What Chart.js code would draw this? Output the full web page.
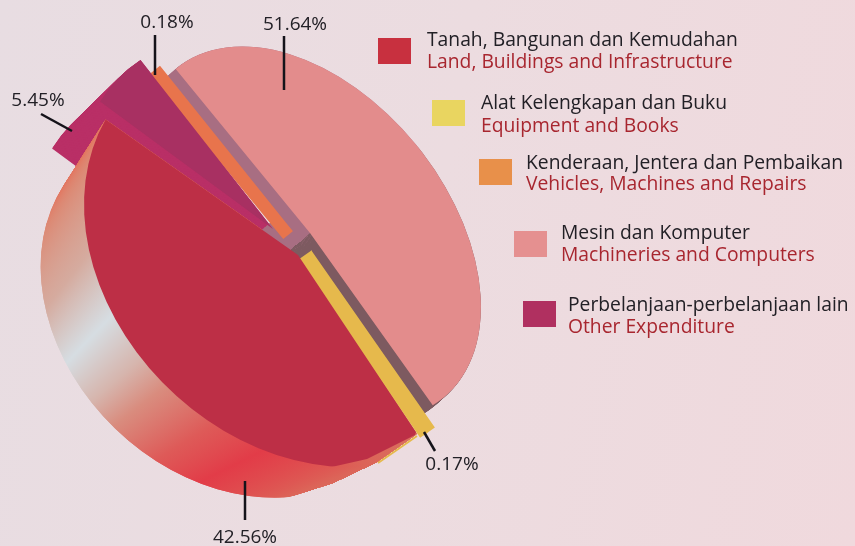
<!DOCTYPE html>
<html><head><meta charset="utf-8">
<style>
html,body{margin:0;padding:0;width:855px;height:546px;overflow:hidden;background:linear-gradient(100deg,#e8dde2 0%,#ecdce0 50%,#f0d9dd 100%);}
canvas{display:block}
</style>
<script src="https://cdn.jsdelivr.net/npm/chart.js@4/dist/chart.umd.min.js"></script>
</head><body>
<canvas id="c" width="855" height="546"></canvas>
<script>
const categoriesMs = ['Tanah, Bangunan dan Kemudahan','Alat Kelengkapan dan Buku','Kenderaan, Jentera dan Pembaikan','Mesin dan Komputer','Perbelanjaan-perbelanjaan lain'];
const categoriesEn = ['Land, Buildings and Infrastructure','Equipment and Books','Vehicles, Machines and Repairs','Machineries and Computers','Other Expenditure'];
const values = [42.56, 0.17, 0.18, 51.64, 5.45];

const sliceColours  = ['#bd2f46','#e6b94c','#e8744c','#e38c8c','#a83062'];
const legendColours = ['#c8303f','#e9d560','#e8904a','#e59090','#b03060'];
const borderWidths  = [0, 15, 12, 0, 0];

const deg = d => d*Math.PI/180;
// Per-slice perspective frame: apex, ellipse axis angle, semi-axes, start angle in that frame
const frames = [
  {x:298,y:255,phi:43.9,a:237,b:186,start:15.7},
  {x:305,y:255,phi:0,a:208,b:208,start:55.1},
  {x:288,y:235,phi:0,a:206,b:206,start:230.6},
  {x:310,y:233,phi:51.2,a:212,b:138,start:179.2},
  {x:273,y:229,phi:43.9,a:216,b:170,start:170.5}
];
const legendPos = [
  {sx:378,sy:38,tx:427,y1:46,y2:68},
  {sx:432,sy:100,tx:481,y1:109,y2:132},
  {sx:479,sy:159,tx:526,y1:169,y2:190},
  {sx:514,sy:231,tx:561,y1:239,y2:261},
  {sx:523,sy:301,tx:568,y1:311,y2:333}
];
const labelPos = [{x:245,y:543},{x:452,y:470},{x:167,y:28},{x:295,y:30},{x:38,y:106}];
const leaders = [[245,481,245,520],[424,432,435,451],[155,35,155,75],[284,36,284,90],[41,114,72,131]];
const wallOutline = [[0,0],[460,300],[417,434],[377,462],[333,483],[283,499],[200,546],[0,546]];
const faceOutline = [[0,0],[460,300],[415,435],[367,459],[327,468],[250,546],[0,546]];

function place(ctx,arc,f,k=1,dx=0,dy=0,dStart=0){
  const R=arc.outerRadius, rho=deg(f.start+dStart)-arc.startAngle;
  ctx.translate(f.x+dx,f.y+dy);
  ctx.rotate(deg(f.phi));
  ctx.scale(f.a*k/R,f.b*k/R);
  ctx.rotate(rho);
  ctx.translate(-arc.x,-arc.y);
  return rho;
}
function conic(ctx,arc,rho,stops){
  const g=ctx.createConicGradient(-rho,arc.x,arc.y);
  stops.forEach(s=>g.addColorStop(s[0]/360,s[1]));
  return g;
}
function drawWith(ctx,arc,opts){
  const c=Object.create(arc);
  c.options=Object.assign({},arc.options,opts);
  c.draw(ctx);
}
function clipTo(ctx,pts){
  ctx.beginPath();pts.forEach((p,i)=>i?ctx.lineTo(p[0],p[1]):ctx.moveTo(p[0],p[1]));ctx.closePath();ctx.clip();
}
const redWallStops=[[0,'#d9705e'],[15,'#d9705e'],[35,'#dc6458'],[62,'#e23c48'],[76,'#de5a58'],[91,'#d98c7e'],[100,'#d6b5ad'],[113,'#d6dde2'],[130,'#d5ab9f'],[155,'#dc8a75'],[180,'#e8634c'],[360,'#e8634c']];
const pinkWallStops=[[0,'#7d5a60'],[10,'#7d5a60'],[10.01,'#a86e82'],[270,'#a86e82'],[270.01,'#7d5a60'],[360,'#7d5a60']];

const piePainter={
  id:'piePainter',
  beforeDatasetsDraw(chart){
    const ctx=chart.ctx, arcs=chart.getDatasetMeta(0).data;
    const N=70;
    // side wall of other expenditure
    for(let i=N;i>=0;i--){
      const t=i/N; ctx.save();
      place(ctx,arcs[4],frames[4],1,-48*t,47*t);
      drawWith(ctx,arcs[4],{backgroundColor:'#b92f66',borderWidth:0});
      ctx.restore();
    }
    // side wall of the large red slice, swept to its lower rim
    ctx.save();clipTo(ctx,wallOutline);
    [12,-11.7].forEach(dStart=>{
      for(let i=N;i>=0;i--){
        const t=i/N; ctx.save();
        const rho=place(ctx,arcs[0],frames[0],1-0.12*t,(229-298)*t,(311-255)*t,dStart*t);
        drawWith(ctx,arcs[0],{backgroundColor:conic(ctx,arcs[0],rho,redWallStops),borderWidth:0});
        ctx.restore();
      }
    });
    ctx.restore();
    // deeper corner of the machineries wall near the centre
    for(let i=16;i>=0;i--){
      const t=i/16; ctx.save();
      const r3=place(ctx,arcs[3],frames[3],0.16,-28*t,24*t);
      drawWith(ctx,arcs[3],{backgroundColor:conic(ctx,arcs[3],r3,pinkWallStops),borderWidth:0});
      ctx.restore();
    }
    // side wall of machineries slice
    for(let i=20;i>=0;i--){
      const t=i/20; ctx.save();
      const rho=place(ctx,arcs[3],frames[3],1,-10*t,9*t);
      drawWith(ctx,arcs[3],{backgroundColor:conic(ctx,arcs[3],rho,pinkWallStops),borderWidth:0});
      ctx.restore();
    }
    // top faces
    [3,2,4,1].forEach(i=>{
      ctx.save(); place(ctx,arcs[i],frames[i]);
      arcs[i].draw(ctx);
      ctx.restore();
    });
    ctx.save();clipTo(ctx,faceOutline);place(ctx,arcs[0],frames[0]);arcs[0].draw(ctx);ctx.restore();
    // thin yellow rim under the equipment slice
    ctx.save();ctx.strokeStyle=sliceColours[1];ctx.lineWidth=2;ctx.beginPath();ctx.moveTo(378,463);ctx.lineTo(417,436);ctx.stroke();ctx.restore();
    return false;
  },
  afterDraw(chart){
    const ctx=chart.ctx;
    ctx.save();
    ctx.strokeStyle='#15131a';ctx.lineWidth=2.5;
    leaders.forEach(l=>{ctx.beginPath();ctx.moveTo(l[0],l[1]);ctx.lineTo(l[2],l[3]);ctx.stroke();});
    ctx.textBaseline='alphabetic';
    ctx.font='19px "Open Sans"';ctx.fillStyle='#222026';ctx.textAlign='center';
    values.forEach((v,i)=>ctx.fillText(v.toFixed(2)+'%',labelPos[i].x,labelPos[i].y));
    ctx.textAlign='left';
    legendPos.forEach((p,i)=>{
      ctx.fillStyle=legendColours[i];ctx.fillRect(p.sx,p.sy,33,26);
      ctx.font='19.3px "Open Sans"';ctx.fillStyle='#222026';ctx.fillText(categoriesMs[i],p.tx,p.y1);
      ctx.fillStyle='#a8262f';ctx.fillText(categoriesEn[i],p.tx,p.y2);
    });
    ctx.restore();
  }
};
new Chart(document.getElementById('c'),{
  type:'pie',
  data:{labels:categoriesEn,datasets:[{data:values,backgroundColor:sliceColours,borderColor:sliceColours,borderWidth:borderWidths,borderJoinStyle:'miter',radius:200}]},
  options:{responsive:false,animation:false,events:[],layout:{padding:0},plugins:{legend:{display:false},tooltip:{enabled:false}}},
  plugins:[piePainter]
});
</script>
</body></html>
